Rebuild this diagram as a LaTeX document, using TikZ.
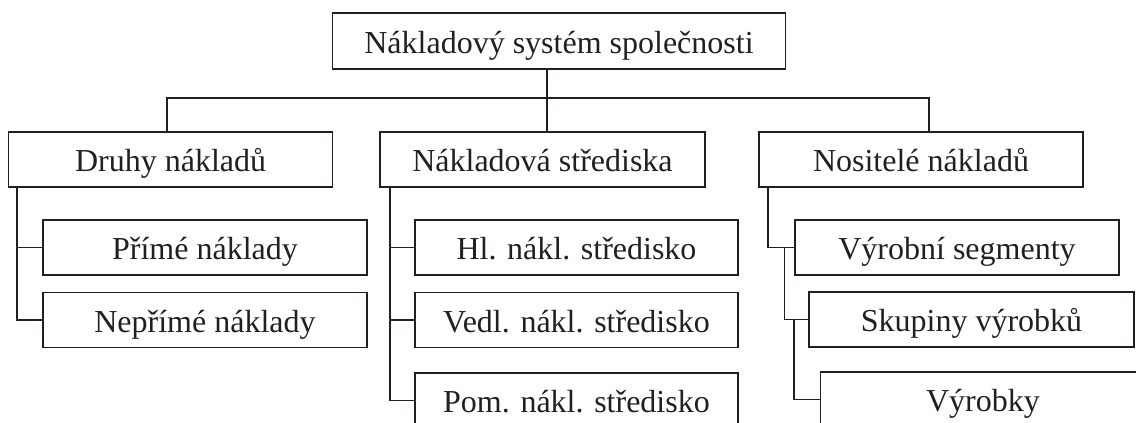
\documentclass[tikz,border=0pt]{standalone}
\usepackage{fontspec}
\setmainfont{Liberation Serif}
\definecolor{ink}{HTML}{231F20}
\tikzset{
  box/.style={draw=ink, line width=1.6pt, minimum height=55pt, inner sep=0pt,
    text height=24pt, text depth=0pt, text=ink, font=\fontsize{32}{38}\selectfont},
  link/.style={draw=ink, line width=1.6pt}
}
\begin{document}
\begin{tikzpicture}[x=1pt,y=-1pt]
  \useasboundingbox (0,0) rectangle (1136,423);
  \node[box, minimum width=453pt, minimum height=56pt, text height=25pt] (top) at (559,41) {Nákladový systém společnosti};
  \node[box, minimum width=324pt] (druhy) at (170.6,159.5) {Druhy nákladů};
  \node[box, minimum width=325pt] (stred) at (542.5,159.5) {Nákladová střediska};
  \node[box, minimum width=324pt] (nosit) at (921,159.5) {Nositelé nákladů};
  % druhy
  \node[box, minimum width=324pt] (prime) at (205,247.5) {Přímé náklady};
  \node[box, minimum width=324pt] (neprime) at (205,320) {Nepřímé náklady};
  % strediska
  \node[box, minimum width=323.5pt] (hl) at (576.5,247.5) {Hl. nákl. středisko};
  \node[box, minimum width=323.5pt] (vedl) at (576.5,320) {Vedl. nákl. středisko};
  \node[box, minimum width=323.5pt] (pom) at (576.5,400.5) {Pom. nákl. středisko};
  % nositele
  \node[box, minimum width=324.5pt] (vyrseg) at (957,247.5) {Výrobní segmenty};
  \node[box, minimum width=325pt] (skup) at (971.5,319.5) {Skupiny výrobků};
  \node[box, minimum width=325pt] (vyrobky) at (983,399.5) {Výrobky};

  \draw[link] ([xshift=4.5pt]stred.north) -- ([xshift=4.5pt]stred.north |- top.south);
  \draw[link] ([xshift=-3.6pt]druhy.north) -- ++(0,-33) -| ([xshift=8pt]nosit.north);

  \draw[link] ([xshift=9.4pt]druhy.south west) |- (prime.west);
  \draw[link] ([xshift=9.4pt]druhy.south west) |- (neprime.west);
  \draw[link] ([xshift=10.5pt]stred.south west) |- (hl.west);
  \draw[link] ([xshift=10.5pt]stred.south west) |- (vedl.west);
  \draw[link] ([xshift=10.5pt]stred.south west) |- (pom.west);
  \draw[link] ([xshift=10pt]nosit.south west) |- (vyrseg.west);
  \draw[link] ([xshift=-9.5pt]vyrseg.west) |- (skup.west);
  \draw[link] ([xshift=-14pt]skup.west) |- (vyrobky.west);
\end{tikzpicture}
\end{document}
